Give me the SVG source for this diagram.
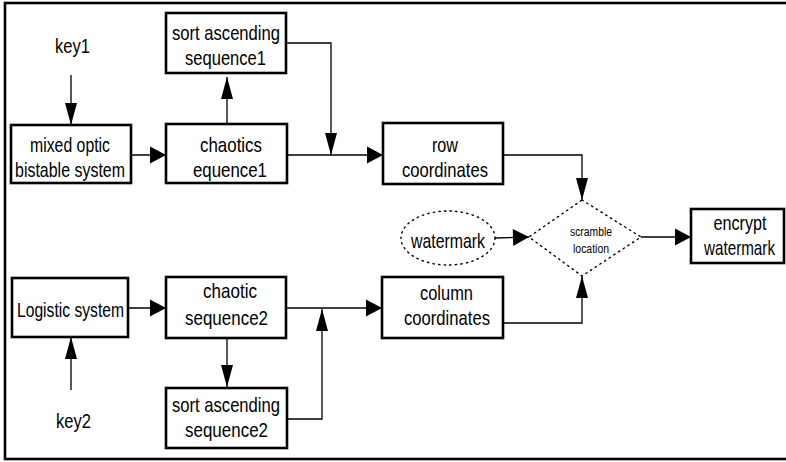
<svg xmlns="http://www.w3.org/2000/svg" width="786" height="462" viewBox="0 0 786 462">
  <style>
    .box { fill: #fff; stroke: #000; stroke-width: 2.6; }
    .dot { fill: #fff; stroke: #000; stroke-width: 1.4; stroke-dasharray: 1.4 4.2; stroke-linecap: round; }
    .frame { fill: none; stroke: #000; stroke-width: 2.6; }
    .wire { fill: none; stroke: #000; stroke-width: 1.3; }
    .wh { marker-end: url(#ah); }
    .wv { marker-end: url(#av); }
    text { font-family: "Liberation Sans", Arial, sans-serif; font-size: 21px; fill: #000; text-anchor: middle; }
    .small { font-size: 12.5px; }
  </style>
  <defs>
    <!-- horizontal arrowhead: short and wide -->
    <marker id="ah" markerUnits="userSpaceOnUse" markerWidth="16" markerHeight="17" refX="16" refY="8.5" orient="auto" overflow="visible">
      <path d="M0,0 L16,8.5 L0,17 Z" fill="#000"/>
    </marker>
    <!-- vertical arrowhead: long and narrow -->
    <marker id="av" markerUnits="userSpaceOnUse" markerWidth="22" markerHeight="12" refX="22" refY="6" orient="auto" overflow="visible">
      <path d="M0,0 L22,6 L0,12 Z" fill="#000"/>
    </marker>
  </defs>

  <rect class="frame" x="5" y="3" width="800" height="456"/>

  <g id="connectors">
    <path class="wire wv" d="M71,75 V125"/>
    <path class="wire wh" d="M131,155 H166"/>
    <path class="wire wv" d="M227,124 V77"/>
    <path class="wire wv" d="M286,43 H331 V155"/>
    <path class="wire wh" d="M287,155 H383"/>
    <path class="wire wv" d="M503,155 H582 V200"/>
    <path class="wire wh" d="M495,238 L529,237"/>
    <path class="wire wh" d="M641,237 H691"/>
    <path class="wire wv" d="M503,323 H582 V276"/>
    <path class="wire wh" d="M128,308 H166"/>
    <path class="wire wv" d="M71,390 V337"/>
    <path class="wire wv" d="M227,338 V387"/>
    <path class="wire wv" d="M287,419 H322 V309"/>
    <path class="wire wh" d="M286,308 H382"/>
  </g>

  <g id="key1">
    <text x="72.5" y="53" textLength="35" lengthAdjust="spacingAndGlyphs">key1</text>
  </g>

  <g id="sort1">
    <rect class="box" x="166" y="13" width="120" height="60"/>
    <text x="226" y="40" textLength="108" lengthAdjust="spacingAndGlyphs">sort ascending</text>
    <text x="225.5" y="65" textLength="81" lengthAdjust="spacingAndGlyphs">sequence1</text>
  </g>

  <g id="optic">
    <rect class="box" x="11" y="125" width="120" height="58"/>
    <text x="70" y="152" textLength="80" lengthAdjust="spacingAndGlyphs">mixed optic</text>
    <text x="70" y="177" textLength="110" lengthAdjust="spacingAndGlyphs">bistable system</text>
  </g>

  <g id="chaos1">
    <rect class="box" x="166" y="124" width="121" height="59"/>
    <text x="231" y="152" textLength="62" lengthAdjust="spacingAndGlyphs">chaotics</text>
    <text x="230" y="177" textLength="74" lengthAdjust="spacingAndGlyphs">equence1</text>
  </g>

  <g id="row">
    <rect class="box" x="383" y="123" width="120" height="61"/>
    <text x="445" y="152" textLength="26" lengthAdjust="spacingAndGlyphs">row</text>
    <text x="445" y="177" textLength="86" lengthAdjust="spacingAndGlyphs">coordinates</text>
  </g>

  <g id="watermark">
    <ellipse class="dot" cx="448" cy="238" rx="47" ry="27"/>
    <text x="448" y="248" textLength="74" lengthAdjust="spacingAndGlyphs">watermark</text>
  </g>

  <g id="scramble">
    <polygon class="dot" points="582,200 641,237 582,276 529,237"/>
    <text class="small" x="591" y="236" textLength="42" lengthAdjust="spacingAndGlyphs">scramble</text>
    <text class="small" x="591" y="253" textLength="36" lengthAdjust="spacingAndGlyphs">location</text>
  </g>

  <g id="encrypt">
    <rect class="box" x="691" y="209" width="93" height="54"/>
    <text x="740" y="230" textLength="53" lengthAdjust="spacingAndGlyphs">encrypt</text>
    <text x="739.5" y="255" textLength="71" lengthAdjust="spacingAndGlyphs">watermark</text>
  </g>

  <g id="logistic">
    <rect class="box" x="12" y="278" width="116" height="59"/>
    <text x="70.5" y="317" textLength="107" lengthAdjust="spacingAndGlyphs">Logistic system</text>
  </g>

  <g id="chaos2">
    <rect class="box" x="166" y="277" width="120" height="61"/>
    <text x="230" y="298" textLength="54" lengthAdjust="spacingAndGlyphs">chaotic</text>
    <text x="226.5" y="325" textLength="83" lengthAdjust="spacingAndGlyphs">sequence2</text>
  </g>

  <g id="column">
    <rect class="box" x="382" y="277" width="121" height="61"/>
    <text x="446.5" y="300" textLength="53" lengthAdjust="spacingAndGlyphs">column</text>
    <text x="447" y="325" textLength="86" lengthAdjust="spacingAndGlyphs">coordinates</text>
  </g>

  <g id="key2">
    <text x="73.5" y="428" textLength="35" lengthAdjust="spacingAndGlyphs">key2</text>
  </g>

  <g id="sort2">
    <rect class="box" x="166" y="388" width="121" height="60"/>
    <text x="226" y="412" textLength="108" lengthAdjust="spacingAndGlyphs">sort ascending</text>
    <text x="226.5" y="437" textLength="83" lengthAdjust="spacingAndGlyphs">sequence2</text>
  </g>
</svg>
